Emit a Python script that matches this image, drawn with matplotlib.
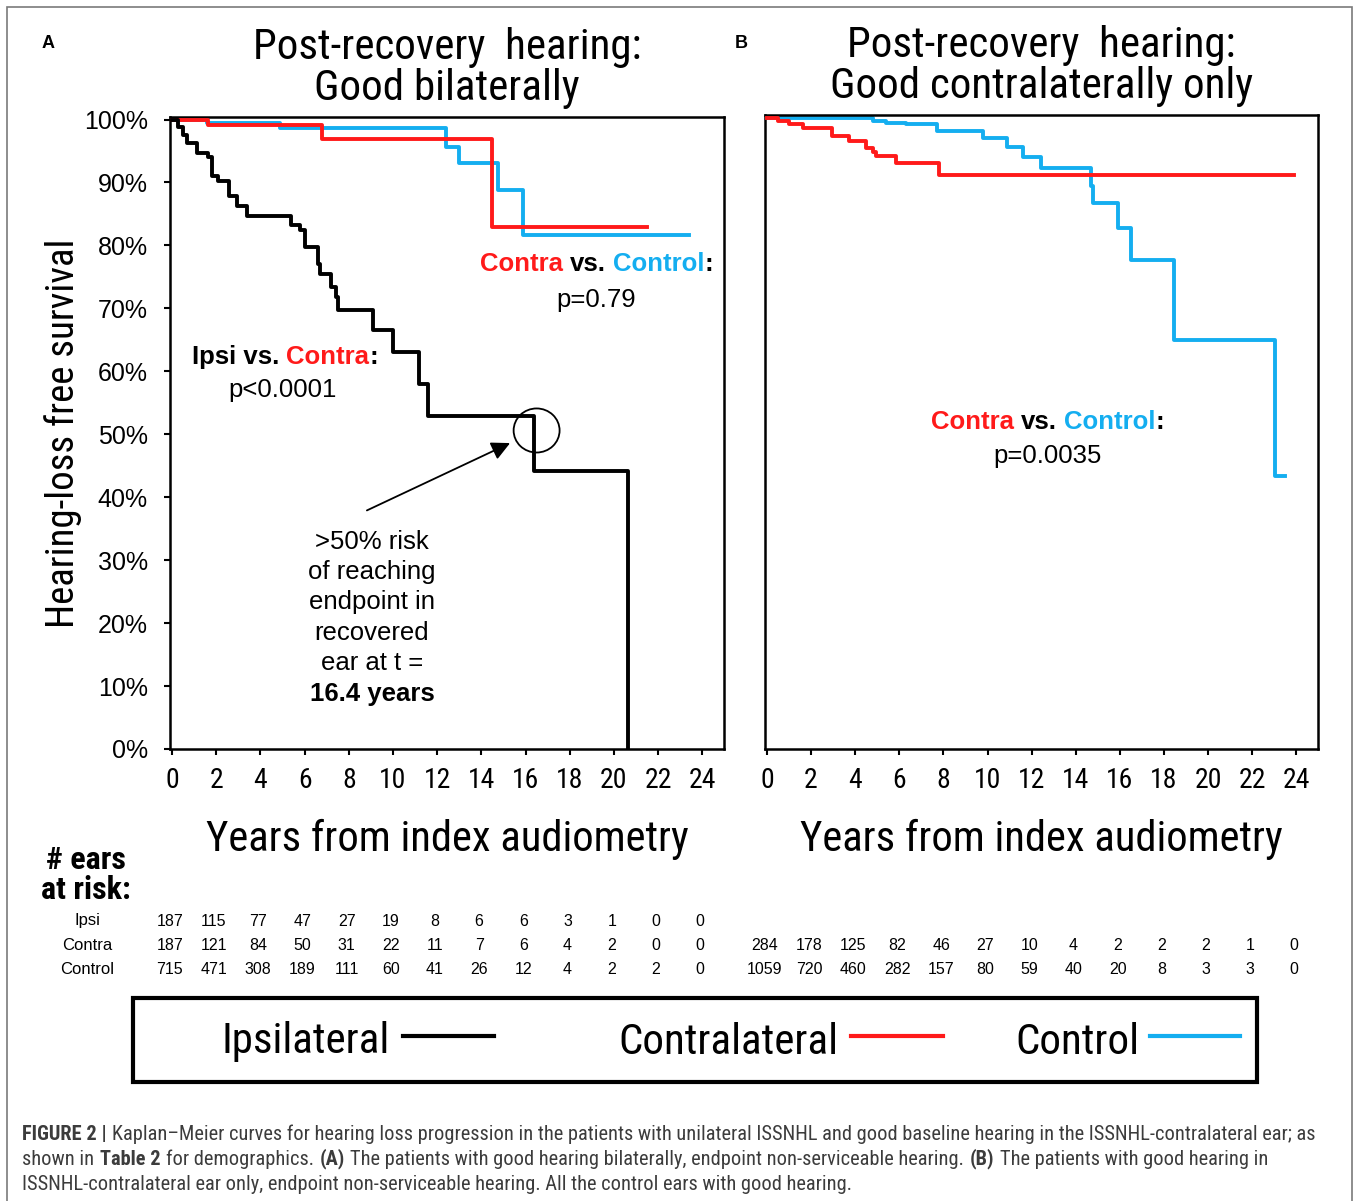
import matplotlib
matplotlib.use("Agg")
import matplotlib.pyplot as plt
import matplotlib.transforms as mtransforms
from matplotlib import font_manager
from matplotlib.font_manager import FontProperties
from matplotlib.patches import Ellipse, Rectangle
from matplotlib.lines import Line2D
from matplotlib.offsetbox import TextArea, HPacker, AnnotationBbox

# ---- data ----
# panel A: good hearing bilaterally
ipsi_t = [0, 0.25, 0.5, 0.7, 1.15, 1.64, 1.8, 2.1, 2.6, 2.95, 3.4, 5.4, 5.8, 6.0, 6.6,
          6.7, 7.2, 7.4, 7.5, 9.1, 10.0, 11.2, 11.6, 16.4, 20.65]
ipsi_s = [100, 98.8, 97.5, 96.3, 94.7, 94.1, 91.0, 90.2, 87.8, 86.2, 84.6, 83.2, 82.4, 79.8, 77.1,
          75.5, 73.4, 71.8, 69.7, 66.5, 63.0, 58.0, 52.9, 44.2, 0]
contraA_t = [0, 1.64, 6.8, 14.5, 21.5]
contraA_s = [100, 99.2, 96.9, 83.0, 83.0]
controlA_t = [0, 1.6, 4.9, 12.4, 13.0, 14.75, 15.9, 23.4]
controlA_s = [100, 99.5, 98.7, 95.7, 93.1, 88.8, 81.6, 81.6]

# panel B: good hearing contralaterally only
contraB_t = [0, 0.5, 1.0, 1.65, 2.95, 3.7, 4.5, 4.8, 4.95, 5.85, 7.8, 23.9]
contraB_s = [100, 99.5, 99.0, 98.4, 97.2, 96.3, 95.3, 94.7, 94.0, 92.9, 91.0, 91.0]
controlB_t = [0, 4.8, 5.4, 6.3, 7.7, 9.8, 10.9, 11.6, 12.4, 14.7, 14.8, 15.9, 16.5,
              18.45, 23.05, 23.5]
controlB_s = [100, 99.6, 99.3, 99.0, 97.9, 96.8, 95.5, 93.9, 92.1, 89.2, 86.5, 82.6, 77.5,
              64.9, 43.2, 43.2]

risk_years = [0, 2, 4, 6, 8, 10, 12, 14, 16, 18, 20, 22, 24]
riskA_ipsi = [187, 115, 77, 47, 27, 19, 8, 6, 6, 3, 1, 0, 0]
riskA_contra = [187, 121, 84, 50, 31, 22, 11, 7, 6, 4, 2, 0, 0]
riskA_control = [715, 471, 308, 189, 111, 60, 41, 26, 12, 4, 2, 2, 0]
riskB_contra = [284, 178, 125, 82, 46, 27, 10, 4, 2, 2, 2, 1, 0]
riskB_control = [1059, 720, 460, 282, 157, 80, 59, 40, 20, 8, 3, 3, 0]

x_ticks = list(range(0, 25, 2))
y_ticks = list(range(0, 101, 10))

BLACK = "black"
RED = "#ff1a1a"
BLUE = "#14aef0"

# look for a narrow/condensed face, otherwise shrink a normal one
def find_face(bold):
    prefs = ["Liberation Sans Narrow", "Roboto Condensed", "DejaVu Sans Condensed",
             "Open Sans Condensed", "Noto Sans Condensed"]
    best = None
    for f in font_manager.fontManager.ttflist:
        fn = f.fname.replace("-", "").replace("_", "").lower()
        isbold = (f.weight in ("bold", 700) or "bold" in fn) and "semibold" not in fn \
            and "extrabold" not in fn
        if isbold != bold or f.style != "normal":
            continue
        narrow = ("narrow" in fn or "condensed" in fn) and "semicondensed" not in fn \
            and "extracondensed" not in fn
        if not narrow:
            continue
        rank = len(prefs)
        for i, p in enumerate(prefs):
            if p.replace(" ", "").lower() in fn:
                rank = i
        if best is None or rank < best[0]:
            best = (rank, f.fname)
    return best[1] if best else None


REG = find_face(False)
BOLD = find_face(True)
SQUEEZE = 1.0 if REG else 0.84


def nf(size, bold=False):
    path = BOLD if bold else REG
    if path:
        return FontProperties(fname=path, size=size)
    return FontProperties(family="Liberation Sans", weight="bold" if bold else "normal",
                          size=size * SQUEEZE)


def wf(size, bold=False):
    return FontProperties(family="Liberation Sans", weight="bold" if bold else "normal", size=size)


W, H = 1357, 1201
fig = plt.figure(figsize=(W / 100, H / 100), dpi=100)
fig.patch.set_facecolor("white")


def fx(px):
    return px / W


def fy(py):
    return 1 - py / H


axA = fig.add_axes([fx(170), fy(749), (724 - 170) / W, (749 - 117) / H])
axB = fig.add_axes([fx(765), fy(749), (1318 - 765) / W, (749 - 115) / H])

lw = 2.8
axA.step(ipsi_t, ipsi_s, where="post", color=BLACK, lw=lw, zorder=4)
axA.step(contraA_t, contraA_s, where="post", color=RED, lw=lw, zorder=3)
axA.step(controlA_t, controlA_s, where="post", color=BLUE, lw=lw, zorder=2)
axB.step(contraB_t, contraB_s, where="post", color=RED, lw=lw, zorder=3)
axB.step(controlB_t, controlB_s, where="post", color=BLUE, lw=lw, zorder=2)

for ax in (axA, axB):
    ax.set_xlim(-0.09, 24.98)
    ax.set_xticks(x_ticks)
    ax.set_xticklabels([str(v) for v in x_ticks], fontproperties=nf(20))
    for s in ax.spines.values():
        s.set_linewidth(1.8)
        s.set_color("black")
    ax.tick_params(axis="x", direction="out", length=4, width=1.5, pad=9)
    ax.set_xlabel("Years from index audiometry", fontproperties=nf(30.7), labelpad=18)

axA.set_ylim(0, 100.4)
axA.set_yticks(y_ticks)
axA.set_yticklabels([f"{v}%" for v in y_ticks], fontproperties=wf(18))
axA.tick_params(axis="y", direction="out", length=4, width=1.5, pad=12)
axA.set_ylabel("Hearing-loss free survival", fontproperties=nf(28), labelpad=1)
axB.set_ylim(0, 100.5)
axB.tick_params(axis="y", left=False, labelleft=False)

axA.set_title("Post-recovery  hearing:\nGood bilaterally", fontproperties=nf(31), pad=12,
              linespacing=1.0)
axB.set_title("Post-recovery  hearing:\nGood contralaterally only", fontproperties=nf(31), pad=12,
              linespacing=1.0)
fig.text(fx(48), fy(44), "A", fontproperties=wf(13, True), ha="center", va="center")
fig.text(fx(741), fy(44), "B", fontproperties=wf(13, True), ha="center", va="center")


def colored(parts, size, bold=True):
    return [TextArea(s, textprops=dict(color=c, fontproperties=wf(size, bold))) for s, c in parts]


def place(ax, box, xy):
    ab = AnnotationBbox(box, xy, xycoords="data", frameon=False, pad=0, box_alignment=(0.5, 0.5))
    ax.add_artist(ab)


# Contra vs Control labels
for ax, xy1, xy2, ptxt in [(axA, (19.2, 77.0), (19.2, 71.3), "p=0.79"),
                           (axB, (12.7, 51.9), (12.7, 46.4), "p=0.0035")]:
    b = colored([("Contra", RED), ("vs.", BLACK), ("Control", BLUE), (":", BLACK)], 18.5)
    box = HPacker(children=[b[0], b[1], HPacker(children=[b[2], b[3]], sep=0, pad=0, align="baseline")],
                  sep=5, pad=0, align="baseline")
    place(ax, box, xy1)
    ax.text(xy2[0], xy2[1], ptxt, fontproperties=wf(18.5), ha="center", va="center")

b = colored([("Ipsi vs.", BLACK), ("Contra", RED), (":", BLACK)], 18.5)
box = HPacker(children=[b[0], HPacker(children=[b[1], b[2]], sep=0, pad=0, align="baseline")],
              sep=5, pad=0, align="baseline")
place(axA, box, (5.1, 62.2))
axA.text(5.0, 57.1, "p<0.0001", fontproperties=wf(18.5), ha="center", va="center")

axA.text(9.05, 23.3, ">50% risk\nof reaching\nendpoint in\nrecovered\near at t =",
         fontproperties=wf(18.5), ha="center", va="center", linespacing=1.33)
axA.text(9.05, 8.7, "16.4 years", fontproperties=wf(18.5, True), ha="center", va="center")
axA.annotate("", xy=(15.3, 48.6), xytext=(8.82, 37.9),
             arrowprops=dict(arrowstyle="-|>", mutation_scale=28, lw=1.3, color="black",
                             shrinkA=0, shrinkB=0))
axA.add_patch(Ellipse((16.5, 50.6), 2.08, 7.0, fill=False, lw=1.3, ec="black", zorder=5))

# at-risk table
fig.text(fx(86), fy(860), "# ears", fontproperties=nf(23, True), ha="center", va="center")
fig.text(fx(86), fy(890), "at risk:", fontproperties=nf(23, True), ha="center", va="center")
row_y = {"Ipsi": 921, "Contra": 945, "Control": 969}
for lab, py in row_y.items():
    fig.text(fx(87), fy(py), lab, fontproperties=wf(12), ha="center", va="center")

for ax, rows in [(axA, [("Ipsi", riskA_ipsi), ("Contra", riskA_contra), ("Control", riskA_control)]),
                 (axB, [("Contra", riskB_contra), ("Control", riskB_control)])]:
    tr = mtransforms.blended_transform_factory(ax.transData, fig.transFigure)
    for lab, vals in rows:
        for xv, v in zip(risk_years, vals):
            ax.text(xv - 0.1, fy(row_y[lab]), str(v), transform=tr, fontproperties=wf(11.5),
                    ha="center", va="center", clip_on=False)

# legend box
fig.add_artist(Rectangle((fx(133), fy(1082)), (1257 - 133) / W, (1082 - 998) / H,
                         transform=fig.transFigure, fill=False, lw=3, ec="black"))
for lab, col, tx, l0, l1 in [("Ipsilateral", BLACK, 222, 403, 494),
                             ("Contralateral", RED, 618, 851, 943),
                             ("Control", BLUE, 1015, 1150, 1240)]:
    fig.text(fx(tx), fy(1042), lab, fontproperties=nf(31), ha="left", va="center")
    fig.add_artist(Line2D([fx(l0), fx(l1)], [fy(1036), fy(1036)], transform=fig.transFigure,
                          color=col, lw=3))

# outer frame
fig.add_artist(Rectangle((fx(7), -0.05), (1352 - 7) / W, fy(7) + 0.05, transform=fig.transFigure,
                         fill=False, lw=1.2, ec="#7a7a7a"))

# caption
CAP = "#3c3c3c"


def cap_line(parts, py):
    kids = []
    for s, bold in parts:
        kids.append(TextArea(s, textprops=dict(color=CAP, fontproperties=nf(14.7, bold))))
    box = HPacker(children=kids, sep=4, pad=0, align="baseline")
    fig.add_artist(AnnotationBbox(box, (fx(22), fy(py)), xycoords="figure fraction",
                                  frameon=False, pad=0, box_alignment=(0, 0.5)))


cap_line([("FIGURE 2 |", True),
          ("Kaplan\u2013Meier curves for hearing loss progression in the patients with unilateral ISSNHL "
           "and good baseline hearing in the ISSNHL-contralateral ear; as", False)], 1134)
cap_line([("shown in", False), ("Table 2", True), ("for demographics.", False), ("(A)", True),
          ("The patients with good hearing bilaterally, endpoint non-serviceable hearing.", False),
          ("(B)", True), ("The patients with good hearing in", False)], 1159)
cap_line([("ISSNHL-contralateral ear only, endpoint non-serviceable hearing. All the control ears "
           "with good hearing.", False)], 1185)

fig.savefig("out.png", dpi=100)
